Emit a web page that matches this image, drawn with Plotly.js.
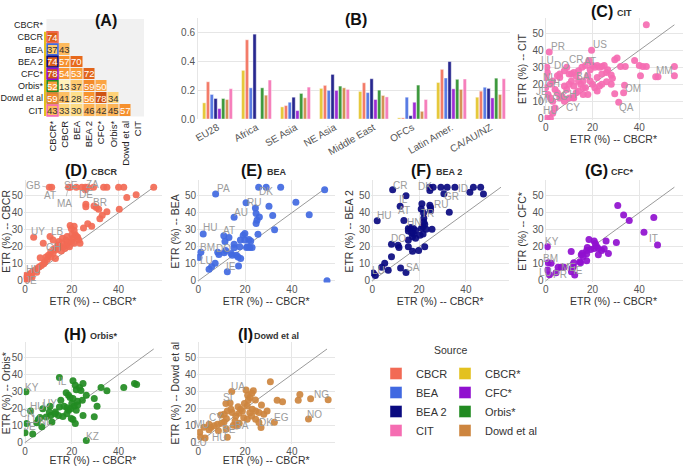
<!DOCTYPE html>
<html><head><meta charset="utf-8">
<script src="https://cdn.plot.ly/plotly-3.0.1.min.js"></script>
<style>html,body{margin:0;padding:0;background:#fff}#chart{width:685px;height:466px}</style>
</head><body><div id="chart"></div>
<script>
// ---------------- DATA ----------------
const sources = ['CBCR*','CBCR','BEA','BEA 2','CFC*','Orbis*','Dowd et al','CIT'];
// (A) lower-triangle overlap values, row by row (columns in same order as sources)
const overlapRows = [
  [],
  [74],
  [37,43],
  [74,57,70],
  [78,54,53,72],
  [52,13,37,59,50],
  [59,41,28,56,78,34],
  [43,33,30,46,42,45,57]
];
// (B) bar chart
const regions = ['EU28','Africa','SE Asia','NE Asia','Middle East','OFCs','Latin Amer.','CA/AU/NZ'];
const barCBCRs = [0.112,0.337,0.084,0.212,0.191,0.008,0.253,0.151];
const barCBCR  = [0.258,0.549,0.093,0.233,0.251,0.008,0.344,0.193];
const barBEA   = [0.170,0.216,0.116,0.198,0.183,0.151,0.284,0.220];
const barBEA2  = [0.142,0.588,0.151,0.309,0.279,0.023,0.398,0.212];
const barCFC   = [0.072,null ,0.058,0.198,0.135,0.116,0.209,0.146];
const barOrbis = [0.142,0.216,0.177,0.228,0.200,0.235,0.275,0.283];
const barDowd  = [0.135,0.165,0.147,0.216,0.163,0.053,0.205,0.170];
const barCIT   = [0.210,0.270,0.221,0.205,0.153,0.135,0.277,0.279];
const diagMax = 55;
// scatter panels: [ETR CBCR*, ETR other source]
const ptsCIT = [[43,55],[1.5,39],[19.6,40],[18.5,34],[29.5,34.5],[30.5,35.5],[38,34],[40,31],[41.5,30.5],[43,30.5],
 [32,30.5],[34,30.5],[55,30.5],[55,25],[47,24.5],[48,24.5],[40.5,25],[33.7,19.5],[33.3,15],[31.2,9.5],
 [29.5,14.5],[28,20],[26,21.5],[28.5,23.5],[28,25.5],[26.5,28.5],[24,30.5],[25,31],[22,31],[21,30],
 [23,30],[20,31],[19,28.5],[17,31],[15.5,30],[14,28],[12,27],[11,26],[9,30],[8,28],
 [6,26],[5,25],[3,22],[2,20],[0.7,27],[0.5,30],[0,24],[0,18],[1,14],[2,12],
 [3,10],[4,17],[5,15],[6,12],[7,13],[8,19],[9,17],[10,20],[11,22],[12,19],
 [13,15],[14,16],[15,20],[16,22],[17,18],[18,25],[19,22],[20,20],[21,18],[22,16],
 [23,19],[24,20],[16,18],[14,22],[18,14],[16,14],[12,12],[10,12],[8,10],[4,6],
 [2,0],[0.5,0],[3,3],[6,24],[10,26],[13,25],[22,24],[24,26],[26,27],[11.7,12.2]];
const ptsCBCR = [[10.4,55],[11.4,55],[18.6,55],[19.3,55],[21.9,55],[24.3,55],[25.8,55],[26.8,55],[29.3,55],[33.6,55],
 [35,55],[40,55],[42.2,55],[55,55],[25.8,53.5],[47.5,50.5],[43.5,49],[40.3,42],[35,40.5],[26,45],
 [26,43.5],[29.5,44],[30.5,43],[31.5,42],[33,38.5],[32,36.5],[26.8,33.5],[28.5,32],[25,31],[19.3,32.5],
 [21,32],[19.8,30.5],[21,29.5],[3.7,25.5],[10.7,26],[7.8,22],[6.5,13.5],[0,1],[0.5,2],[1,3],
 [1.5,2.5],[2,4],[2.5,3],[3,5],[4,6],[5,7],[6,8],[7,9],[8,10],[8.5,11],
 [9.5,12.5],[10,15],[11,17],[12,16],[12.5,19],[13,18],[14,21],[14.5,23],[15,20],[15.5,17.5],
 [16,22],[16.5,20],[17,19],[17.5,24],[18,21],[18.5,22.5],[19,20],[20,23],[20.5,25],[21,22],
 [21.5,27],[22,26],[22.5,25.5],[23,24],[23.5,22],[13,13],[16,25],[18,26],[20,27],[12,24],
 [14,19],[11,14],[9,14],[5,5],[3,2],[0,3],[1,0.5]];
const ptsBEA = [[25.8,55],[29,55],[35.2,55],[54,53.5],[55,0],[41.7,46.2],[47.4,38.8],[7.4,51],[20.4,45.8],[24.4,42.8],
 [24.7,39.5],[26.1,37.5],[25.1,35.6],[24.7,33.6],[30.2,43.8],[31.8,38.3],[32.6,30],[25.5,27.3],[15.3,37.3],[2.1,27.5],
 [10.9,26.4],[13.1,25.4],[11.4,23],[19.9,27.8],[19.2,26.8],[18,23.9],[19.9,23.9],[21.6,24.3],[22.4,23.3],[15.3,21.5],
 [15.3,19.4],[17.7,19.9],[20.6,19.5],[22,19.5],[23,19.5],[21,20],[14.5,15],[16.3,15],[17,14],[18.1,13],
 [14,16],[11.7,17.8],[11.1,16.4],[8.3,16.8],[8.8,15.4],[1.1,16.8],[0.3,13.7],[7.2,10.2],[5.7,8.3],[4.6,6.7],
 [17.2,8.7],[12.4,5.3]];
const ptsBEA2 = [[8.7,53.5],[14.4,50],[24.4,55],[26,55],[29.3,55],[32,55],[35.3,55],[43.2,55],[46.3,55],[24.6,53],
 [30.6,51.2],[41.7,52],[47.5,51],[11.9,43.8],[21.2,45.3],[20.9,42.2],[21.9,39.8],[24.6,44.4],[24.9,43],[24.9,41.2],
 [32.9,40.2],[13.5,35.4],[2.1,35.2],[22,36.7],[22,34.6],[22.4,33.2],[16.4,31.3],[15.4,30.7],[17.6,30.7],[18.5,29.5],
 [21.7,31.7],[21,30.8],[23,30.2],[25.5,30.2],[15.4,29.3],[16.8,28.1],[17.8,27.4],[17.2,25.9],[18.5,24.9],[20.4,26.7],
 [21.7,27.4],[15.4,23.9],[8.2,21.5],[11,20.9],[11.4,19.5],[15.4,20],[17.2,17.3],[19.8,17.8],[22.4,20],[8.2,14.1],
 [5.3,10.2],[4,7.9],[6.8,6.2],[12.1,7.4],[14.4,4.8],[0.4,4.5],[1.3,3.1]];
const ptsCFC = [[30.8,44.2],[33.3,38.7],[35.7,35.4],[46.2,37.2],[42,28.5],[47.8,21],[30.2,22.4],[18.5,24.3],[20.7,23.3],[21.2,21.9],
 [21.7,20.3],[22.5,19],[20.7,19],[19.2,18.4],[22.5,15.2],[23.9,17.8],[25,18.8],[25.8,23.3],[26.8,16],[17.8,19.5],
 [17.5,17.8],[17.5,15.8],[17.5,11.8],[15.6,16.2],[15.2,15.2],[16,14.2],[14.6,11.2],[14.9,10.6],[10.9,17.2],[12,10.6],
 [11.8,8.3],[11.3,7.3],[11,5.3],[12.4,3.4],[7.8,7.9],[6.6,7.9],[5.3,7.9],[4.4,4.7],[0.7,20],[1.1,10.6],
 [2.3,10.2],[0.8,6.3],[1.6,3.5]];
const ptsOrbis = [[14.7,38.2],[20.5,36.3],[24.8,34.7],[21.5,33.7],[23.3,32.3],[32.5,32.3],[35,30.4],[42.2,32.3],[46.8,34.7],[47.7,34.1],
 [0.4,29.8],[17.6,29.2],[18.6,27.8],[19.3,26.4],[21.9,31],[23.9,30.6],[15.3,24.9],[20.5,25.9],[22.5,24.3],[24.5,24.8],
 [26.2,27.8],[29.6,25.9],[20,22.9],[21,21.3],[17.9,20.5],[14.7,20.9],[16.7,21.3],[18.6,18.9],[19.5,19.8],[21.9,18.9],
 [30.8,21.3],[10.7,21.3],[7.6,19.9],[10.4,17.9],[11,15.9],[12.9,16.9],[14.3,15.9],[16.2,15.3],[17.9,16.9],[19.8,14.1],
 [20.5,13.5],[21.5,11.2],[24.8,15.9],[29.6,15.1],[2.4,18.5],[0.7,11.2],[5.7,13.5],[6.4,14.7],[5,11.6],[7.2,9.3],
 [11.5,12.1],[3.3,5],[0,5.7],[26.2,1.2],[13,18],[9,15],[22.5,22]];
const ptsDowd = [[30.8,35.7],[20.4,30.9],[14.3,30],[23.5,30.5],[22.9,28.9],[21.1,27.8],[33.7,24.9],[36,24],[42.7,24.9],[43.4,28.2],
 [48,25.8],[55.5,25.2],[47.1,13.8],[32.5,11.9],[26.8,8.8],[22.1,26.5],[24.4,25],[21.4,24.9],[19.7,22.9],[11.8,22.9],
 [13.6,23.3],[18.1,19.5],[18.8,18.6],[20.9,21.5],[23.1,19.5],[24.5,18.6],[25.9,17.6],[28,16.6],[29.4,18.6],[27,22],
 [17.4,17.2],[16,15.6],[14.5,17.6],[12.4,18.6],[11,16.6],[9.6,16.2],[19.4,14.6],[20.9,13.7],[22.8,15.6],[24.5,13.7],
 [25.9,11.7],[15.7,12.7],[17.5,11.3],[15,10.1],[16.4,9.7],[12,14.1],[11,12.1],[9.9,11.3],[8.2,10.8],[6.8,9.9],
 [5.4,8.8],[4.6,7.5],[12,7.9],[8.6,6.9],[12.4,3.1],[4.6,10.8],[2.4,8.9],[0.6,6],[0.9,3.2],[2.9,2.6],
 [14,19.5],[17,21],[22,17.5]];
// country labels: [code, x, y] of the labelled point
const lblCIT = [['PR',1.5,39],['US',19.6,40],['LU',0.7,27],['CR',9,30],['DO',8,28],['NL',3,22],['GH',4,17],['JE',0,18],['SG',6,12],['MU',2,12],['HU',2,0],['CY',11.7,12.2],['AT',17,31],['BA',15,22],['CH',11,15],['OM',33.3,15],['QA',31.2,9.5],['MM',55,25]];
const lblCBCR = [['GB',10.4,55],['AT',11.4,55],['SE',19.3,55],['ZA',26.8,55],['MA',18.6,55],['DE',25.8,53.5],['BR',29.5,44],['UY',3.7,25.5],['LB',10.7,26],['GH',7.8,22],['HU',2,4],['JE',1,1]];
const lblBEA = [['PA',7.4,51],['DK',25.8,55],['RU',20.4,45.8],['AU',15.3,37.3],['HU',2.1,27.5],['AT',10.9,26.4],['BM',1.1,16.8],['DO',11.7,17.8],['LU',4.6,6.7],['IE',17.2,8.7]];
const lblBEA2 = [['CR',8.7,53.5],['DK',24.4,55],['ID',41.7,52],['GR',30.6,51.2],['IL',11.9,43.8],['AT',13.5,35.4],['RU',24.9,43],['HU',2.1,35.2],['TR',22,36.7],['HN',16.4,31.3],['DO',8.2,21.5],['SA',12.1,7.4],['LU',0.4,4.5]];
const lblCFC = [['KY',0.7,20],['IT',47.8,21],['BM',1.1,10.6],['LU',0.8,6.3],['PR',4.4,4.7],['ME',6.6,7.9],['IE',11.3,7.3]];
const lblOrbis = [['IL',14.7,38.2],['KY',0.4,29.8],['HU',7.6,19.9],['UY',10.7,21.3],['CN',2.4,18.5],['LU',5,11.6],['NL',11.5,12.1],['JE',0,5.7],['KZ',26.2,1.2]];
const lblDowd = [['UA',20.4,30.9],['SI',11.8,22.9],['CY',9.6,16.2],['MU',2.4,8.9],['HU',12.4,3.1],['LU',0.9,3.2],['BA',16.4,9.7],['BE',12,7.9],['DK',26.8,8.8],['EG',32.5,11.9],['NG',48,25.8],['NO',47.1,13.8]];

// ---------------- STYLE / LAYOUT ----------------
const W = 685, H = 466;
const FONT = 'Liberation Sans, Arial, Helvetica, sans-serif';
const col = {'CBCR*':'#E3C11F','CBCR':'#F26A55','BEA':'#4169E1','BEA 2':'#0A0A80','CFC*':'#9010CF','Orbis*':'#228B22','Dowd et al':'#CD853F','CIT':'#F56DB2'};
// label offsets (px) for the country-code labels, in the same order as the label lists
const offCIT = [[9,-6],[8,-6],[0,-12],[9,-8],[-3,-5],[-3,-3],[-3,-6],[-4,4],[1,-1],[-3,2],[0,-8],[0,10],[5,-4],[2,-4],[-2,2],[9,-4],[8,5],[-10,-5]];
const offCBCR = [[-16,-2],[-2,8],[1,-2],[5,-3],[-4,16],[1,5],[6,-3],[4,-6],[7,-5],[10,4],[3,-4],[4,2]];
const offBEA = [[8,-5],[7,4],[8,0],[7,-5],[7,-6],[5,-5],[7,-5],[-2,-2],[-3,-9],[-8,1]];
const offBEA2 = [[7,-4],[-4,-1],[-7,-4],[8,3],[3,-7],[0,-10],[10,-3],[7,-5],[4,-5],[3,-5],[7,-6],[12,-1],[5,-3]];
const offCFC = [[5,-5],[-4,-6],[2,-4],[-2,3],[4,2],[7,0],[6,2]];
const offOrbis = [[3,4],[6,-4],[-6,-2],[0,-3],[-4,2],[-3,-3],[-6,0],[5,-6],[6,-4]];
const offDowd = [[-8,-3],[2,-6],[-5,3],[-2,-3],[-8,0],[0,5],[5,-1],[3,0],[5,-5],[7,-5],[11,-4],[6,-5]];

const px = p => p / W;
const py = p => 1 - p / H;
const traces = [], annotations = [], shapes = [];
const layout = {
  width: W, height: H, margin: {l:0,r:0,t:0,b:0},
  paper_bgcolor:'#fff', plot_bgcolor:'#fff',
  font: {family: FONT, size: 10, color:'#444'},
  showlegend: true, bargap: 0.22, bargroupgap: 0.14,
  annotations, shapes
};

// ---- (A) heatmap ----
const zA = overlapRows.map(r => sources.map((c,j) => j < r.length ? r[j] : null));
traces.push({type:'heatmap', x: sources, y: sources, z: zA, xaxis:'x', yaxis:'y',
  zmin:10, zmax:80, showscale:false, xgap:1, ygap:1, hoverongaps:false,
  colorscale:[[0,'#fff5c4'],[0.3,'#fedb82'],[0.5,'#fdb457'],[0.65,'#f8952f'],[0.85,'#e86a1c'],[1,'#c94f12']]});
layout.xaxis = {domain:[px(44),px(144)], type:'category', tickangle:-90, showgrid:false, zeroline:false,
  ticks:'', tickfont:{size:9.5,color:'#222'}, anchor:'y'};
layout.yaxis = {domain:[py(118),py(19)], type:'category', autorange:'reversed', showgrid:false, zeroline:false,
  ticks:'', tickfont:{size:9,color:'#222'}, ticklabelstandoff:0, anchor:'x'};
shapes.push({type:'rect', xref:'x', yref:'y', x0:-0.5, x1:7.5, y0:-0.5, y1:7.5, fillcolor:'#f1f1f1', line:{width:0}, layer:'below'});
zA.forEach((row,i) => row.forEach((v,j) => {
  if (v === null) return;
  annotations.push({xref:'x', yref:'y', x: sources[j], y: sources[i], text: String(v), showarrow:false,
    font:{size:9.5, color: v >= 50 ? '#ffffff' : '#333333'}});
  if (j === 0) shapes.push({type:'rect', xref:'x', yref:'y', x0:-0.44, x1:0.44, y0:i-0.44, y1:i+0.44,
    line:{color: col[sources[i]], width:1.6}, fillcolor:'rgba(0,0,0,0)'});
}));
shapes.push({type:'line', xref:'x', yref:'y', x0:-0.62, x1:-0.62, y0:0.55, y1:7.45, line:{color: col['CBCR*'], width:2}});

// ---- (B) grouped bars ----
const barSeries = [['CBCR*',barCBCRs],['CBCR',barCBCR],['BEA',barBEA],['BEA 2',barBEA2],['CFC*',barCFC],['Orbis*',barOrbis],['Dowd et al',barDowd],['CIT',barCIT]];
const leftLegend = ['CBCR','BEA','BEA 2','CIT'];
barSeries.forEach(([name, vals]) => {
  traces.push({type:'bar', name, x: regions, y: vals, xaxis:'x2', yaxis:'y2',
    marker:{color: col[name], opacity:0.88, line:{color:'rgba(255,255,255,0.7)', width:0.6}},
    legend: leftLegend.includes(name) ? 'legend' : 'legend2', hoverinfo:'x+y+name'});
});
layout.xaxis2 = {domain:[px(198),px(510)], anchor:'y2', tickangle:-30, showgrid:false, zeroline:false, ticks:'',
  tickfont:{size:10,color:'#555'}};
layout.yaxis2 = {domain:[py(119),py(18)], anchor:'x2', range:[0,0.7], dtick:0.2, tickformat:'.1f', showgrid:true,
  gridcolor:'#e6e6e6', zeroline:false, showline:true, linecolor:'#e6e6e6', ticks:'', tickfont:{size:10,color:'#555'}};

// ---- scatter panels ----
const colX = [25, 198.3, 372.3, 545.7], rowY = [118.3, 280.7, 442.5], SX = 2.34, SY = 1.7;
const panels = [
  {id:3, name:'CIT', pts:ptsCIT, lbl:lblCIT, off:offCIT, c:3, r:0, tag:'(C)', tagX:601.5, subX:615, tagY:12},
  {id:4, name:'CBCR', pts:ptsCBCR, lbl:lblCBCR, off:offCBCR, c:0, r:1, tag:'(D)', tagX:76, subX:89, tagY:170},
  {id:5, name:'BEA', pts:ptsBEA, lbl:lblBEA, off:offBEA, c:1, r:1, tag:'(E)', tagX:252, subX:265, tagY:170},
  {id:6, name:'BEA 2', pts:ptsBEA2, lbl:lblBEA2, off:offBEA2, c:2, r:1, tag:'(F)', tagX:421, subX:434, tagY:170},
  {id:7, name:'CFC*', pts:ptsCFC, lbl:lblCFC, off:offCFC, c:3, r:1, tag:'(G)', tagX:596, subX:609, tagY:170},
  {id:8, name:'Orbis*', pts:ptsOrbis, lbl:lblOrbis, off:offOrbis, c:0, r:2, tag:'(H)', tagX:75, subX:88, tagY:334},
  {id:9, name:'Dowd et al', pts:ptsDowd, lbl:lblDowd, off:offDowd, c:1, r:2, tag:'(I)', tagX:245, subX:252, tagY:334}
];
panels.forEach(p => {
  const xa = 'x'+p.id, ya = 'y'+p.id;
  const x0 = colX[p.c], y0 = rowY[p.r];
  layout['xaxis'+p.id] = {domain:[px(x0-0.5*SX), px(x0+58.5*SX)], anchor:ya, range:[-0.5,58.5], tick0:0, dtick:20,
    showgrid:true, gridcolor:'#e6e6e6', zeroline:false, ticks:'', tickfont:{size:10,color:'#555'},
    title:{text:'ETR (%) -- CBCR*', font:{size:10.5,color:'#333'}, standoff:3}};
  layout['yaxis'+p.id] = {domain:[py(y0+1*SY), py(y0-59*SY)], anchor:xa, range:[-1,59], tick0:0, dtick:10,
    showgrid:true, gridcolor:'#e6e6e6', zeroline:false, ticks:'', tickfont:{size:10,color:'#555'},
    title:{text:'ETR (%) -- '+p.name, font:{size:10.5,color:'#333'}, standoff:3}};
  traces.push({type:'scatter', mode:'lines', x:[0,diagMax], y:[0,diagMax], xaxis:xa, yaxis:ya,
    line:{color:'#9a9a9a', width:1}, showlegend:false, hoverinfo:'skip'});
  traces.push({type:'scatter', mode:'markers', x:p.pts.map(d=>d[0]), y:p.pts.map(d=>d[1]), xaxis:xa, yaxis:ya,
    marker:{color: col[p.name], size:7, opacity:0.92}, showlegend:false, name:p.name});
  p.lbl.forEach((l,i) => {
    const [dx,dy] = p.off[i];
    const far = Math.hypot(dx,dy) > 9;
    const a = {xref:xa, yref:ya, x:l[1], y:l[2], text:l[0], font:{size:10,color:'#9c9c9c'}};
    if (far) Object.assign(a, {showarrow:true, arrowhead:0, arrowwidth:0.7, arrowcolor:'#aaaaaa', ax:dx, ay:dy, standoff:3});
    else Object.assign(a, {showarrow:false, xshift:dx, yshift:-dy});
    annotations.push(a);
  });
  annotations.push({xref:'paper', yref:'paper', x:px(p.tagX), y:py(p.tagY), text:'<b>'+p.tag+'</b>', showarrow:false,
    xanchor:'center', yanchor:'middle', font:{size:16,color:'#111'}});
  annotations.push({xref:'paper', yref:'paper', x:px(p.subX), y:py(p.tagY+1.5), text:'<b>'+p.name+'</b>', showarrow:false,
    xanchor:'left', yanchor:'middle', font:{size:9,color:'#333'}});
});
annotations.push({xref:'paper', yref:'paper', x:px(92.5), y:py(10), text:'<b>(A)</b>', showarrow:false, font:{size:16,color:'#111'}});
annotations.push({xref:'paper', yref:'paper', x:px(356), y:py(9), text:'<b>(B)</b>', showarrow:false, font:{size:16,color:'#111'}});
// legend
annotations.push({xref:'paper', yref:'paper', x:px(450), y:py(358), text:'Source', showarrow:false, font:{size:10.5,color:'#333'}});
layout.legend = {x:px(376), y:py(359), xanchor:'left', yanchor:'top', bgcolor:'rgba(0,0,0,0)', font:{size:11,color:'#333'}, itemclick:false};
layout.legend2 = {x:px(445), y:py(359), xanchor:'left', yanchor:'top', bgcolor:'rgba(0,0,0,0)', font:{size:11,color:'#333'}, itemclick:false};

Plotly.newPlot('chart', traces, layout, {displayModeBar:false, staticPlot:true});
</script></body></html>
